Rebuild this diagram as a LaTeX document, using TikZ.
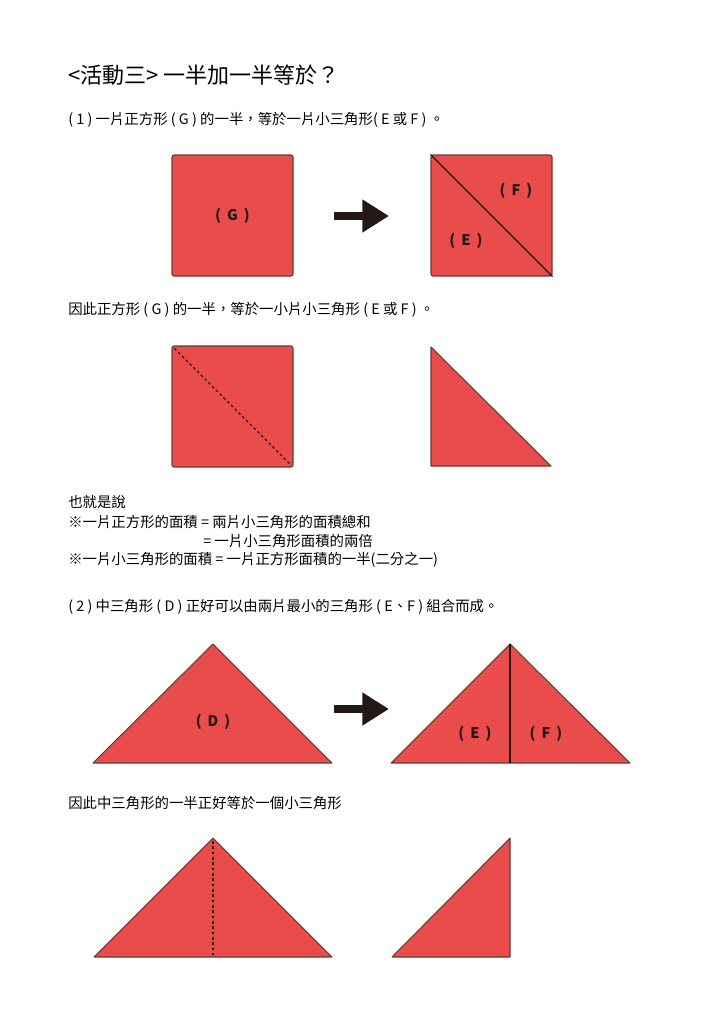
\documentclass[tikz,border=0pt]{standalone}
\usepackage{fontspec}
\setmainfont{Noto Sans CJK TC}
\usetikzlibrary{arrows.meta}
\definecolor{tanred}{HTML}{E94C4A}
\definecolor{tanedge}{HTML}{6A3A36}
\definecolor{tanink}{HTML}{231815}
\begin{document}
\begin{tikzpicture}[x=0.75pt,y=-0.75pt,
				txt/.style={anchor=west, inner sep=0, font=\fontsize{10.8}{13}\selectfont},
				lbl/.style={inner sep=0, font=\fontsize{11}{13}\selectfont\bfseries, text=tanink},
				piece/.style={fill=tanred, draw=tanedge, line width=0.8pt, line join=round},
				sq/.style={piece, rectangle, minimum size=90.75pt, rounded corners=1.5pt, inner sep=0},
				fold/.style={draw=tanink, line width=0.9pt},
				crease/.style={draw=tanink, line width=0.9pt, dash pattern=on 2pt off 2pt},
				push/.style={draw=tanink, line width=6pt, -{Triangle[length=20pt,width=23.5pt]}}]
				
				\useasboundingbox (0,0) rectangle (724,1024);
				
				% texts
				\node [txt, font=\fontsize{16.5}{19}\selectfont] (title) at (68,75) {<活動三> 一半加一半等於？};
				\node [txt] (line1) at (68,120) {( 1 ) 一片正方形 ( G ) 的一半，等於一片小三角形( E 或 F ) 。};
				\node [txt] (line2) at (68,310) {因此正方形 ( G ) 的一半，等於一小片小三角形 ( E 或 F ) 。};
				\node [txt] (line3) at (68,502) {也就是說};
				\node [txt] (line4) at (68,522) {※一片正方形的面積 = 兩片小三角形的面積總和};
				\node [txt] (line5) at (203,541) {= 一片小三角形面積的兩倍};
				\node [txt] (line6) at (68,560) {※一片小三角形的面積 = 一片正方形面積的一半(二分之一)};
				\node [txt] (line7) at (68,607) {( 2 ) 中三角形 ( D ) 正好可以由兩片最小的三角形 ( E、F ) 組合而成。};
				\node [txt] (line8) at (68,803) {因此中三角形的一半正好等於一個小三角形};
				
				% square G -> E + F
				\node [sq] (G) at (232.5,215.5) {};
				\node [lbl] (labG) at (G) {(\hspace{2pt} G \hspace{2pt})};
				\coordinate (a1) at (334,216);
				\coordinate (b1) at (389,216);
				\draw [push] (a1) -- (b1);
				\node [sq] (EF) at (491.5,215.5) {};
				\draw [fold] (EF.north west) -- (EF.south east);
				\node [lbl] (labF) at (516,191) {(\hspace{2pt} F \hspace{2pt})};
				\node [lbl] (labE) at (466,241) {(\hspace{2pt} E \hspace{2pt})};
				
				% half of the square
				\node [sq] (G2) at (232.5,406.5) {};
				\draw [crease] ([shift={(3,3)}]G2.north west) -- ([shift={(-3,-3)}]G2.south east);
				\draw [piece] (431,347) -- (431,466) -- (551,466) -- cycle;
				
				% triangle D -> E + F
				\draw [piece] (93,763) -- (213,644) -- (332,763) -- cycle;
				\node [lbl] (labD) at (213,722) {(\hspace{2pt} D \hspace{2pt})};
				\coordinate (a2) at (334,709);
				\coordinate (b2) at (389,709);
				\draw [push] (a2) -- (b2);
				\draw [piece] (391,763) -- (510,644) -- (630,763) -- cycle;
				\draw [fold] (510,644) -- (510,763);
				\node [lbl] (labE2) at (475,734) {(\hspace{2pt} E \hspace{2pt})};
				\node [lbl] (labF2) at (546,734) {(\hspace{2pt} F \hspace{2pt})};
				
				% half of triangle D
				\draw [piece] (94,957) -- (213,838) -- (332,957) -- cycle;
				\draw [crease] (213,841) -- (213,955);
				\draw [piece] (392,957) -- (510,838) -- (510,957) -- cycle;
\end{tikzpicture}
\end{document}
